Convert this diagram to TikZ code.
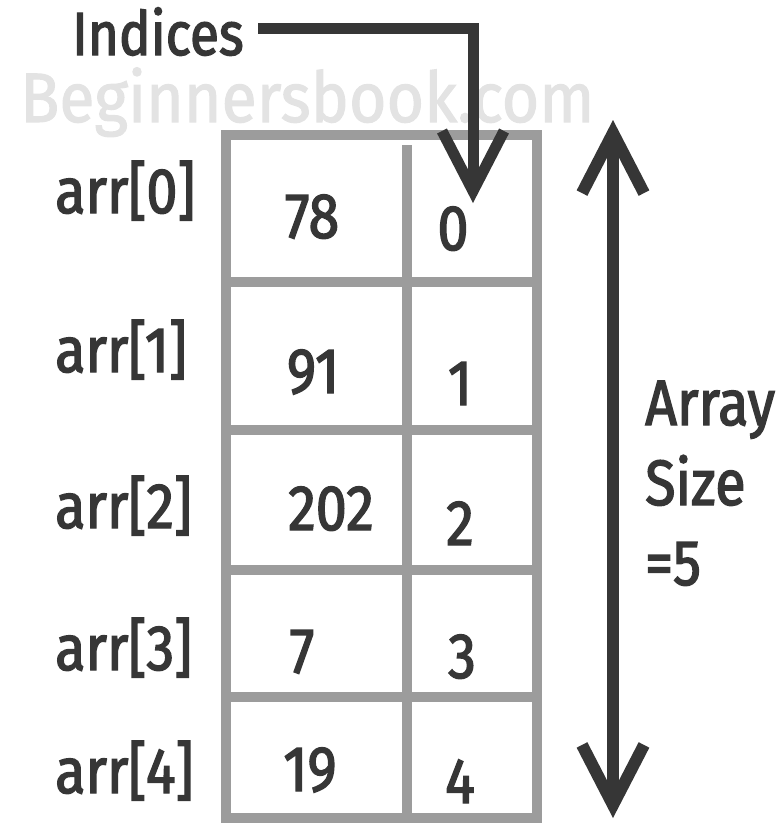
\documentclass[tikz,border=0pt]{standalone}
\usepackage{fontspec}
\setmainfont{Fira Sans}[FakeStretch=0.87,FakeBold=2.2]
\newfontfamily\wmfont{Fira Sans}[FakeStretch=0.92,FakeBold=1.5]
\usetikzlibrary{arrows.meta}
\definecolor{ink}{HTML}{363636}
\definecolor{gridc}{HTML}{9C9C9C}
\definecolor{wm}{HTML}{E3E3E3}
\begin{document}
\begin{tikzpicture}[x=1pt,y=-1pt,
  lbl/.style={inner sep=0pt,text=ink,font=\fontsize{64}{64}\selectfont},
  gridline/.style={draw=gridc,line width=10pt},
  barb/.tip={Straight Barb[length=60pt,width=62pt]},
  conn/.style={draw=ink,line width=11pt,-barb},
  dconn/.style={draw=ink,line width=12pt,barb-barb}]
\useasboundingbox (0,0) rectangle (779,823);
% watermark
\node[inner sep=0pt,anchor=base west,text=wm,font=\wmfont\fontsize{70}{70}\selectfont] (wmark) at (20,122) {Beginnersbook.com};
% grid
\draw[gridline] (226,135) rectangle (537,818);
\foreach \y in {282,430,570,697} \draw[gridline] (226,\y) -- (537,\y);
\draw[gridline] (407,145) -- (407,818);
% row labels
\node[lbl,anchor=base west] (a0) at (55,213) {arr[0]};
\node[lbl,anchor=base west] (a1) at (55,372) {arr[1]};
\node[lbl,anchor=base west] (a2) at (55,528) {arr[2]};
\node[lbl,anchor=base west] (a3) at (55,670) {arr[3]};
\node[lbl,anchor=base west] (a4) at (55,793) {arr[4]};
% values
\node[lbl,anchor=base] (v0) at (312,238) {78};
\node[lbl,anchor=base] (v1) at (313,393) {91};
\node[lbl,anchor=base] (v2) at (331,530) {202};
\node[lbl,anchor=base] (v3) at (302,673) {7};
\node[lbl,anchor=base] (v4) at (310,791) {19};
% indices
\node[lbl,anchor=base] (i0) at (453,250) {0};
\node[lbl,anchor=base] (i1) at (460,405) {1};
\node[lbl,anchor=base] (i2) at (460,545) {2};
\node[lbl,anchor=base] (i3) at (462,678) {3};
\node[lbl,anchor=base] (i4) at (460,803) {4};
% Indices label and arrow
\node[lbl,anchor=base west,font=\fontsize{61}{61}\selectfont] (ind) at (72,55) {Indices};
\coordinate (istart) at (258,28);
\coordinate (itip) at (473,203);
\draw[conn] (istart) -| (itip);
% size arrow
\coordinate (stop) at (613,120);
\coordinate (sbot) at (613,818);
\draw[dconn] (sbot) -- (stop);
\node[lbl,anchor=base west] (s1) at (645,425) {Array};
\node[lbl,anchor=base west] (s2) at (645,505) {Size};
\node[lbl,anchor=base west] (s3) at (645,585) {=5};
\end{tikzpicture}
\end{document}
